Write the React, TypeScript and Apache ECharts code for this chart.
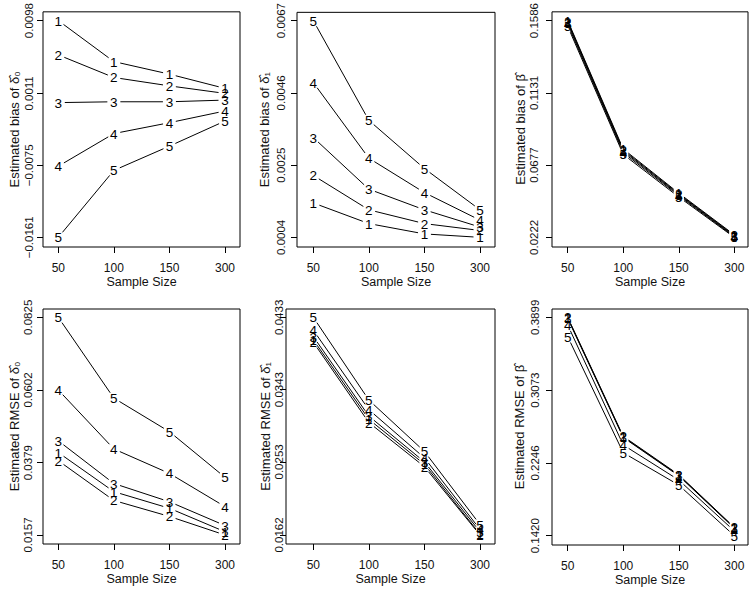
import React, { useEffect, useRef } from 'react';
import * as echarts from 'echarts';

const FONT = "'Liberation Sans', Arial, Helvetica, sans-serif";

const sampleSizes = ['50', '100', '150', '300'];
const seriesLabels = ['1', '2', '3', '4', '5'];

// Panel 1: estimated bias of delta0 (series 1..5)
const biasDelta0: number[][] = [
  [0.0098, 0.0049, 0.0034, 0.0017],
  [0.0057, 0.003, 0.002, 0.0011],
  [0.0, 0.0001, 0.0001, 0.0003],
  [-0.0076, -0.0037, -0.0024, -0.001],
  [-0.0161, -0.0081, -0.0052, -0.0022],
];
const biasDelta0Ticks = [-0.0161, -0.0075, 0.0011, 0.0098];

// Panel 2: estimated bias of delta1
const biasDelta1: number[][] = [
  [0.0014, 0.0008, 0.0005, 0.0004],
  [0.0022, 0.0012, 0.0008, 0.0006],
  [0.0033, 0.0018, 0.0012, 0.0007],
  [0.0049, 0.0027, 0.0017, 0.0009],
  [0.0067, 0.0038, 0.0024, 0.0012],
];
const biasDelta1Ticks = [0.0004, 0.0025, 0.0046, 0.0067];

// Panel 3: estimated bias of beta
const biasBeta: number[][] = [
  [0.1586, 0.0778, 0.05, 0.0238],
  [0.158, 0.0771, 0.0495, 0.0234],
  [0.1573, 0.0764, 0.049, 0.023],
  [0.1563, 0.0755, 0.0484, 0.0226],
  [0.155, 0.0744, 0.0476, 0.0222],
];
const biasBetaTicks = [0.0222, 0.0677, 0.1131, 0.1586];

// Panel 4: estimated RMSE of delta0
const rmseDelta0: number[][] = [
  [0.041, 0.029, 0.0239, 0.0167],
  [0.0385, 0.0263, 0.0214, 0.0157],
  [0.0446, 0.0315, 0.0259, 0.0186],
  [0.0602, 0.0421, 0.0346, 0.0244],
  [0.0825, 0.0577, 0.0474, 0.0334],
];
const rmseDelta0Ticks = [0.0157, 0.0379, 0.0602, 0.0825];

// Panel 5: estimated RMSE of delta1
const rmseDelta1: number[][] = [
  [0.0405, 0.0306, 0.025, 0.0163],
  [0.0402, 0.0302, 0.0247, 0.0162],
  [0.0409, 0.031, 0.0253, 0.0166],
  [0.0417, 0.0318, 0.0258, 0.0169],
  [0.0433, 0.033, 0.0266, 0.0175],
];
const rmseDelta1Ticks = [0.0162, 0.0253, 0.0343, 0.0433];

// Panel 6: estimated RMSE of beta
const rmseBeta: number[][] = [
  [0.3886, 0.2535, 0.21, 0.1505],
  [0.3899, 0.2548, 0.2112, 0.1515],
  [0.3893, 0.2541, 0.2106, 0.151],
  [0.3812, 0.245, 0.2052, 0.1474],
  [0.3679, 0.2362, 0.1995, 0.142],
];
const rmseBetaTicks = [0.142, 0.2246, 0.3073, 0.3899];

const yTitles = [
  'Estimated bias of δ\u0302\u2080',
  'Estimated bias of δ\u0302\u2081',
  'Estimated bias of β\u0302',
  'Estimated RMSE of δ\u0302\u2080',
  'Estimated RMSE of δ\u0302\u2081',
  'Estimated RMSE of β\u0302',
];
const xTitle = 'Sample Size';

const panelData = [biasDelta0, biasDelta1, biasBeta, rmseDelta0, rmseDelta1, rmseBeta];
const panelTicks = [biasDelta0Ticks, biasDelta1Ticks, biasBetaTicks, rmseDelta0Ticks, rmseDelta1Ticks, rmseBetaTicks];

// Layout (pixels): box edges, first/last x tick, top/bottom y tick, label/name gaps
const layout = [
  { L: 43, R: 240, T: 10.5, B: 247, x1: 58.3, x4: 225, yHi: 19.3, yLo: 237.3, lab: 8.5, gap: 22 },
  { L: 297, R: 495, T: 11, B: 247, x1: 313.3, x4: 480, yHi: 19.3, yLo: 237.3, lab: 9.7, gap: 26 },
  { L: 552, R: 748, T: 10.5, B: 247, x1: 567.7, x4: 734.3, yHi: 19.3, yLo: 237.3, lab: 11.7, gap: 24.5 },
  { L: 43, R: 240, T: 309, B: 544, x1: 58.3, x4: 225, yHi: 317.3, yLo: 535, lab: 9, gap: 22 },
  { L: 286, R: 495, T: 309, B: 544, x1: 313.3, x4: 480, yHi: 317.3, yLo: 535, lab: 1, gap: 13 },
  { L: 552, R: 748, T: 309, B: 545, x1: 567.7, x4: 734.3, yHi: 317.3, yLo: 535.7, lab: 11.4, gap: 26.5 },
];

const GAP = 6.5;

const fmtTick = (v: number) => (v < 0 ? '\u2212' : '') + Math.abs(v).toFixed(4);

function buildOption() {
  const grids: any[] = [];
  const xAxes: any[] = [];
  const yAxes: any[] = [];
  const series: any[] = [];
  const xIdx = sampleSizes.map((_, i) => i + 1);

  layout.forEach((g, k) => {
    const ticks = panelTicks[k];
    const lo = ticks[0];
    const hi = ticks[ticks.length - 1];
    const xUnit = (g.x4 - g.x1) / (xIdx.length - 1);
    const xmin = 1 - (g.x1 - g.L) / xUnit;
    const xmax = xIdx.length + (g.R - g.x4) / xUnit;
    const yUnit = (g.yLo - g.yHi) / (hi - lo);
    const ymax = hi + (g.yHi - g.T) / yUnit;
    const ymin = lo - (g.B - g.yLo) / yUnit;

    grids.push({
      left: g.L,
      top: g.T,
      width: g.R - g.L,
      height: g.B - g.T,
      show: true,
      borderColor: '#000',
      borderWidth: 1,
      backgroundColor: 'transparent',
    });
    xAxes.push({
      type: 'value',
      gridIndex: k,
      min: xmin,
      max: xmax,
      axisLine: { show: false, onZero: false },
      splitLine: { show: false },
      axisTick: { show: true, customValues: xIdx, length: 6, lineStyle: { color: '#000', width: 1 } },
      axisLabel: {
        show: true,
        customValues: xIdx,
        formatter: (v: number) => sampleSizes[Math.round(v) - 1] ?? '',
        margin: 14.5,
        fontSize: 12,
        fontFamily: FONT,
        color: '#111',
      },
      name: xTitle,
      nameLocation: 'middle',
      nameGap: 28.5,
      nameTextStyle: { fontSize: 12.5, fontFamily: FONT, color: '#111' },
    });
    yAxes.push({
      type: 'value',
      gridIndex: k,
      min: ymin,
      max: ymax,
      axisLine: { show: false, onZero: false },
      splitLine: { show: false },
      axisTick: { show: true, customValues: ticks, length: 6, lineStyle: { color: '#000', width: 1 } },
      axisLabel: {
        show: true,
        customValues: ticks,
        formatter: (v: number) => fmtTick(v),
        rotate: 90,
        margin: g.lab,
        fontSize: 11.5,
        fontFamily: FONT,
        color: '#111',
      },
      name: yTitles[k],
      nameLocation: 'middle',
      nameRotate: 90,
      nameGap: g.gap,
      nameTextStyle: { fontSize: 13, fontFamily: FONT, color: '#111' },
    });

    panelData[k].forEach((vals, j) => {
      const label = seriesLabels[j];
      series.push({
        type: 'custom',
        name: `p${k + 1}-s${label}`,
        xAxisIndex: k,
        yAxisIndex: k,
        coordinateSystem: 'cartesian2d',
        clip: false,
        data: vals.map((v, i) => [xIdx[i], v]),
        encode: { x: 0, y: 1 },
        renderItem: (params: any, api: any) => {
          const i = params.dataIndex;
          const p = api.coord([api.value(0), api.value(1)]);
          const children: any[] = [
            {
              type: 'text',
              style: {
                text: label,
                x: p[0],
                y: p[1] + 0.5,
                align: 'center',
                verticalAlign: 'middle',
                fontSize: 13.5,
                fontFamily: FONT,
                fill: '#000',
              },
            },
          ];
          if (i < vals.length - 1) {
            const q = api.coord([xIdx[i + 1], vals[i + 1]]);
            const dx = q[0] - p[0];
            const dy = q[1] - p[1];
            const d = Math.hypot(dx, dy);
            if (d > 2 * GAP) {
              const ux = dx / d;
              const uy = dy / d;
              children.push({
                type: 'line',
                shape: {
                  x1: p[0] + ux * GAP,
                  y1: p[1] + uy * GAP,
                  x2: q[0] - ux * GAP,
                  y2: q[1] - uy * GAP,
                },
                style: { stroke: '#000', lineWidth: 1 },
              });
            }
          }
          return { type: 'group', children };
        },
      });
    });
  });

  return {
    animation: false,
    backgroundColor: '#fff',
    grid: grids,
    xAxis: xAxes,
    yAxis: yAxes,
    series,
  };
}

export default function App() {
  const ref = useRef<HTMLDivElement>(null);
  useEffect(() => {
    document.body.style.margin = '0';
    if (!ref.current) return;
    const chart = echarts.init(ref.current, undefined, { renderer: 'svg' });
    chart.setOption(buildOption() as any);
    return () => chart.dispose();
  }, []);
  return <div ref={ref} style={{ width: 750, height: 590, background: '#fff' }} />;
}
